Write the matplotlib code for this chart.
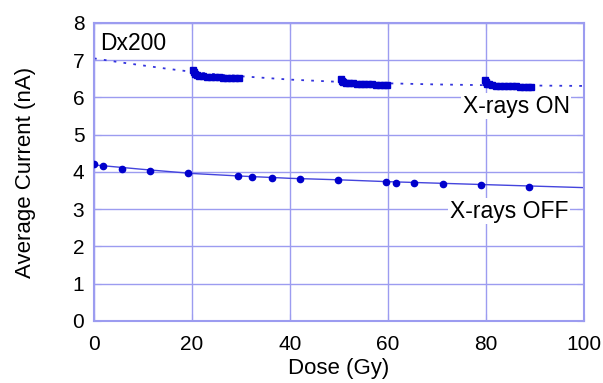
import matplotlib.pyplot as plt

plt.rcParams['font.family'] = ['Liberation Sans', 'DejaVu Sans']

# X-rays OFF: measured points
off_dose = [0.0, 1.9, 5.8, 11.5, 19.1, 29.3, 32.2, 36.3, 42.0, 49.7,
            59.5, 61.6, 65.3, 71.2, 79.0, 88.7]
off_current = [4.21, 4.16, 4.08, 4.03, 3.96, 3.89, 3.87, 3.85, 3.81, 3.78,
               3.72, 3.71, 3.70, 3.67, 3.65, 3.60]
off_fit_dose = [0, 10, 20, 30, 40, 50, 60, 70, 80, 90, 100]
off_fit_current = [4.19, 4.07, 3.96, 3.89, 3.83, 3.79, 3.74, 3.70, 3.66,
                   3.62, 3.58]

# X-rays ON: three irradiation runs
on_dose_1 = [20.3, 20.4, 20.6, 21.0, 21.5, 22.3, 23.1, 23.9, 24.7, 25.5,
             26.3, 27.1, 27.9, 28.7, 29.5]
on_current_1 = [6.75, 6.68, 6.62, 6.60, 6.59, 6.57, 6.56, 6.55, 6.54, 6.54,
                6.53, 6.53, 6.52, 6.52, 6.52]
on_dose_2 = [50.4, 50.6, 50.9, 51.4, 52.0, 52.8, 53.6, 54.4, 55.2, 56.0,
             56.8, 57.6, 58.4, 59.2, 59.8]
on_current_2 = [6.50, 6.44, 6.41, 6.40, 6.39, 6.38, 6.37, 6.36, 6.36, 6.35,
                6.35, 6.34, 6.34, 6.34, 6.33]
on_dose_3 = [79.7, 79.9, 80.2, 80.6, 81.3, 82.1, 82.9, 83.7, 84.5, 85.3,
             86.1, 86.9, 87.7, 88.5, 89.2]
on_current_3 = [6.47, 6.41, 6.37, 6.35, 6.33, 6.32, 6.31, 6.31, 6.30, 6.30,
                6.30, 6.29, 6.29, 6.29, 6.29]
on_fit_dose = [0, 5, 10, 15, 20, 25, 30, 40, 50, 60, 70, 80, 90, 100]
on_fit_current = [7.05, 6.95, 6.86, 6.77, 6.69, 6.62, 6.57, 6.48, 6.42, 6.38,
                  6.35, 6.33, 6.32, 6.31]

x_ticks = [0, 20, 40, 60, 80, 100]
y_ticks = [0, 1, 2, 3, 4, 5, 6, 7, 8]

frame_color = '#9c9cf0'
mark_color = '#0000cc'


def draw_chart():
    fig = plt.figure(figsize=(6.03, 3.83), dpi=100)
    ax = fig.add_axes([0.1559, 0.1619, 0.8126, 0.7781])

    ax.plot(on_fit_dose, on_fit_current, ls=(0, (1.5, 4)), lw=1.3,
            color='#3333dd', zorder=2)
    for xs, ys in [(on_dose_1, on_current_1), (on_dose_2, on_current_2),
                   (on_dose_3, on_current_3)]:
        ax.plot(xs, ys, ls='none', marker='s', ms=4.8, color=mark_color,
                mec=mark_color, zorder=3)

    ax.plot(off_fit_dose, off_fit_current, lw=1.0, color='#4444dd', zorder=2)
    ax.plot(off_dose, off_current, ls='none', marker='o', ms=4.5,
            color=mark_color, zorder=3)

    ax.set_xlim(0, 100)
    ax.set_ylim(0, 8)
    ax.set_xticks(x_ticks)
    ax.set_yticks(y_ticks)
    ax.grid(True, color=frame_color, lw=1.0)
    ax.set_axisbelow(True)
    for sp in ax.spines.values():
        sp.set_color(frame_color)
        sp.set_linewidth(1.5)
    ax.tick_params(direction='in', length=5, color=frame_color,
                   top=True, right=True, labelsize=15)
    ax.tick_params(axis='x', pad=10)
    ax.tick_params(axis='y', pad=7)

    ax.set_xlabel('Dose (Gy)', fontsize=16, labelpad=3)
    ax.set_ylabel('Average Current (nA)', fontsize=16, labelpad=26)

    ax.text(1.2, 7.44, 'Dx200', fontsize=16.5, va='center', ha='left',
            bbox=dict(fc='white', ec='none', pad=1))
    ax.text(97.1, 5.77, 'X-rays ON', fontsize=16.5, va='center', ha='right',
            bbox=dict(fc='white', ec='none', pad=1))
    ax.text(96.8, 2.95, 'X-rays OFF', fontsize=16.5, va='center', ha='right',
            bbox=dict(fc='white', ec='none', pad=1))

    fig.savefig('out.png', dpi=100)


if __name__ == '__main__':
    draw_chart()
